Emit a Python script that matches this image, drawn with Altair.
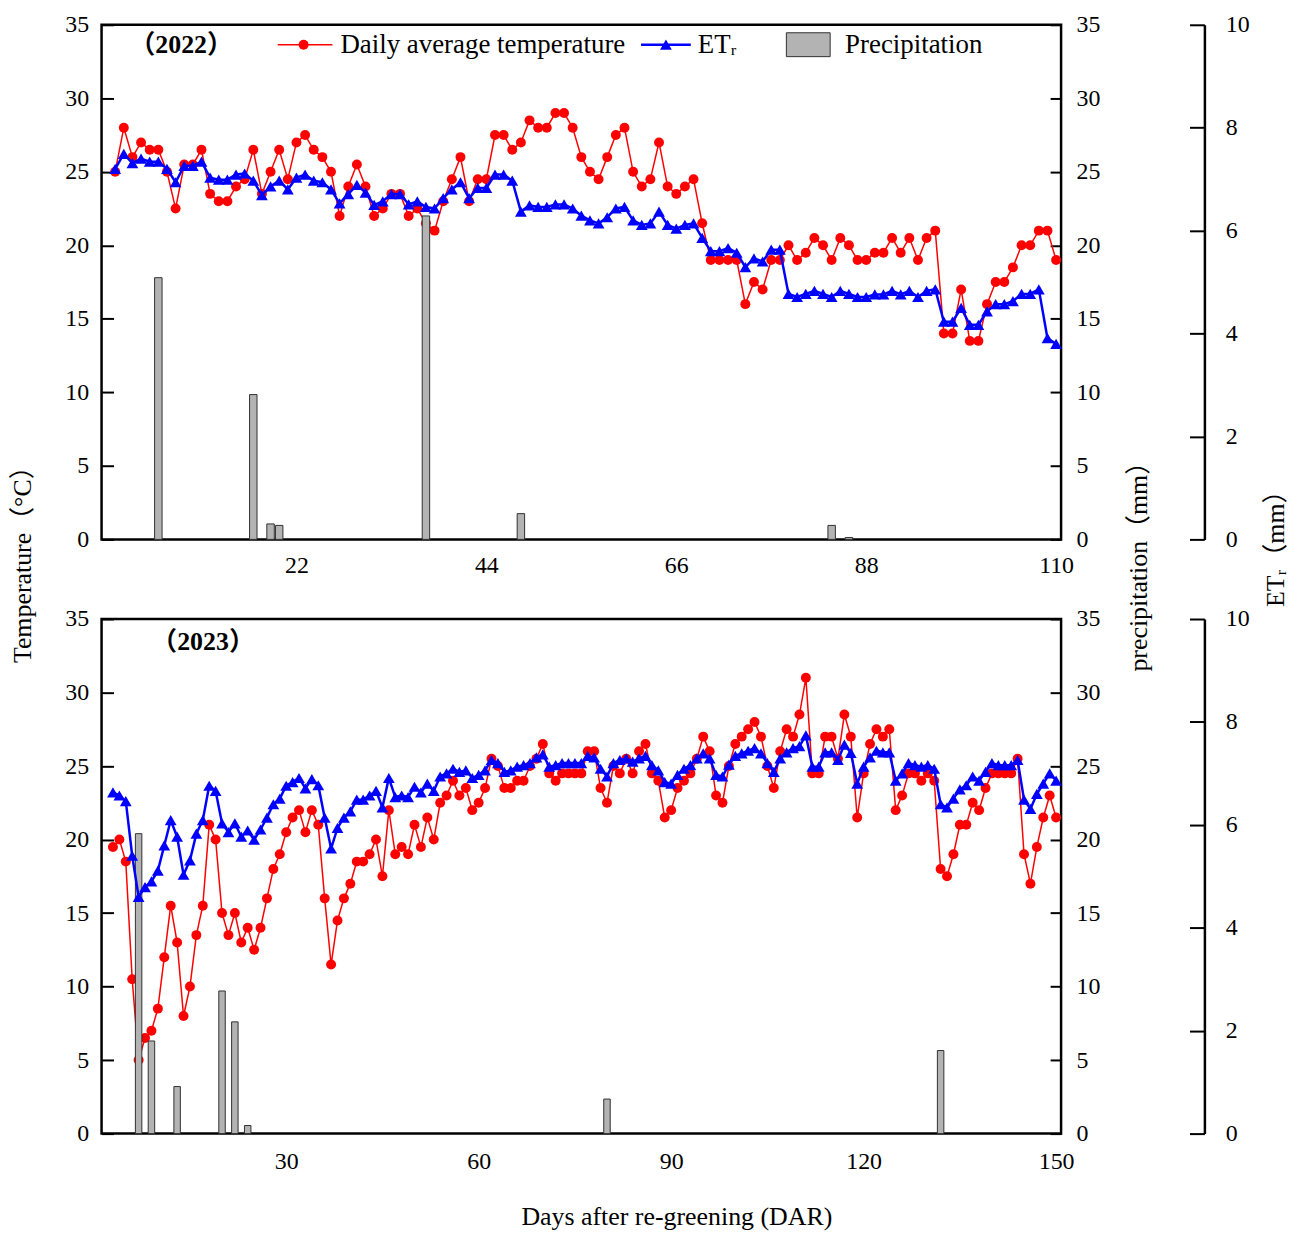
import altair as alt
import pandas as pd

FONT = "Liberation Serif, 'Noto Sans CJK SC'"
PW, PH = 964, 517

# ---------------- 2022 ----------------
days_2022 = list(range(1, 111))
temp_2022 = [25, 28, 26, 27, 26.5, 26.5, 25, 22.5, 25.5, 25.5,
             26.5, 23.5, 23, 23, 24, 24.5, 26.5, 23.5, 25, 26.5,
             24.5, 27, 27.5, 26.5, 26, 25, 22, 24, 25.5, 24,
             22, 22.5, 23.5, 23.5, 22, 22.5, 21.5, 21, 23, 24.5,
             26, 23, 24.5, 24.5, 27.5, 27.5, 26.5, 27, 28.5, 28,
             28, 29, 29, 28, 26, 25, 24.5, 26, 27.5, 28,
             25, 24, 24.5, 27, 24, 23.5, 24, 24.5, 21.5, 19,
             19, 19, 19, 16, 17.5, 17, 19, 19, 20, 19,
             19.5, 20.5, 20, 19, 20.5, 20, 19, 19, 19.5, 19.5,
             20.5, 19.5, 20.5, 19, 20.5, 21, 14, 14, 17, 13.5,
             13.5, 16, 17.5, 17.5, 18.5, 20, 20, 21, 21, 19]
et_2022 = [7.20, 7.49, 7.31, 7.40, 7.34, 7.34, 7.20, 6.94, 7.26, 7.26,
           7.34, 7.03, 6.99, 6.99, 7.09, 7.11, 6.97, 6.69, 6.86, 6.97,
           6.80, 7.03, 7.09, 6.97, 6.94, 6.80, 6.53, 6.71, 6.89, 6.74,
           6.50, 6.57, 6.71, 6.71, 6.51, 6.57, 6.46, 6.43, 6.63, 6.80,
           6.94, 6.63, 6.83, 6.83, 7.09, 7.09, 6.97, 6.37, 6.49, 6.46,
           6.46, 6.51, 6.51, 6.43, 6.29, 6.20, 6.14, 6.26, 6.43, 6.46,
           6.20, 6.11, 6.14, 6.37, 6.11, 6.04, 6.11, 6.14, 5.86, 5.60,
           5.60, 5.66, 5.57, 5.29, 5.46, 5.40, 5.63, 5.63, 4.77, 4.71,
           4.77, 4.83, 4.77, 4.71, 4.83, 4.77, 4.71, 4.71, 4.76, 4.76,
           4.83, 4.76, 4.83, 4.71, 4.83, 4.86, 4.23, 4.23, 4.50, 4.17,
           4.17, 4.43, 4.57, 4.57, 4.63, 4.77, 4.77, 4.86, 3.91, 3.80]
rain_day_2022 = [6, 17, 19, 20, 37, 48, 84, 86]
rain_2022 = [17.8, 9.85, 1.05, 0.95, 22.0, 1.75, 0.95, 0.13]

# ---------------- 2023 ----------------
days_2023 = list(range(3, 151))
temp_2023 = [19.5, 20, 18.5, 10.5, 5, 6.5, 7, 8.5, 12, 15.5,
             13, 8, 10, 13.5, 15.5, 21, 20, 15, 13.5, 15,
             13, 14, 12.5, 14, 16, 18, 19, 20.5, 21.5, 22,
             20.5, 22, 21, 16, 11.5, 14.5, 16, 17, 18.5, 18.5,
             19, 20, 17.5, 22, 19, 19.5, 19, 21, 19.5, 21.5,
             20, 22.5, 23, 24, 23, 23.5, 22, 22.5, 23.5, 25.5,
             25, 23.5, 23.5, 24, 24, 25, 25.5, 26.5, 24.5, 24,
             24.5, 24.5, 24.5, 24.5, 26, 26, 23.5, 22.5, 25, 24.5,
             25.5, 24.5, 26, 26.5, 24.5, 24, 21.5, 22, 23.5, 24,
             24.5, 25.5, 27, 26, 23, 22.5, 25, 26.5, 27, 27.5,
             28, 27, 25, 23.5, 26, 27.5, 27, 28.5, 31, 24.5,
             24.5, 27, 27, 25.5, 28.5, 27, 21.5, 24.5, 26.5, 27.5,
             27, 27.5, 22, 23, 24.5, 24.5, 24, 24.5, 24, 18,
             17.5, 19, 21, 21, 22.5, 22, 23.5, 24.5, 24.5, 24.5,
             24.5, 25.5, 19, 17, 19.5, 21.5, 23, 21.5]
et_2023 = [6.63, 6.57, 6.46, 5.40, 4.60, 4.79, 4.90, 5.11, 5.60, 6.09,
           5.77, 5.03, 5.31, 5.83, 6.09, 6.76, 6.66, 6.03, 5.86, 6.03,
           5.77, 5.89, 5.71, 5.91, 6.14, 6.40, 6.51, 6.76, 6.83, 6.91,
           6.71, 6.89, 6.77, 6.14, 5.54, 5.94, 6.14, 6.26, 6.49, 6.49,
           6.57, 6.66, 6.34, 6.91, 6.54, 6.57, 6.54, 6.74, 6.63, 6.80,
           6.66, 6.94, 7.00, 7.09, 7.03, 7.06, 6.91, 6.97, 7.06, 7.26,
           7.20, 7.03, 7.06, 7.13, 7.16, 7.20, 7.31, 7.37, 7.13, 7.16,
           7.20, 7.20, 7.20, 7.20, 7.34, 7.31, 7.09, 6.94, 7.20, 7.26,
           7.29, 7.23, 7.29, 7.34, 7.16, 7.06, 6.83, 6.80, 6.97, 7.09,
           7.16, 7.29, 7.39, 7.29, 6.97, 6.94, 7.17, 7.34, 7.39, 7.44,
           7.49, 7.39, 7.20, 7.03, 7.29, 7.41, 7.49, 7.53, 7.74, 7.13,
           7.13, 7.41, 7.41, 7.26, 7.56, 7.40, 6.80, 7.13, 7.31, 7.44,
           7.41, 7.41, 6.86, 7.00, 7.20, 7.16, 7.13, 7.16, 7.09, 6.40,
           6.34, 6.51, 6.69, 6.77, 6.94, 6.86, 7.03, 7.20, 7.16, 7.16,
           7.16, 7.26, 6.49, 6.31, 6.60, 6.80, 7.00, 6.86]
rain_day_2023 = [7, 9, 13, 20, 22, 24, 80, 132]
rain_2023 = [20.4, 6.3, 3.2, 9.7, 7.6, 0.55, 2.35, 5.65]

temp_ticks = [0, 5, 10, 15, 20, 25, 30, 35]
et_ticks = [0, 2, 4, 6, 8, 10]
x_ticks_2022 = [22, 44, 66, 88, 110]
x_ticks_2023 = [30, 60, 90, 120, 150]

RED = "#ff0000"
BLUE = "#0000ff"
TICK_FS = 24
one = pd.DataFrame({"k": [0]})


def label(text, x, y, size=26, weight="normal", align="center", angle=0):
    return alt.Chart(one).mark_text(
        text=text, font=FONT, fontSize=size, fontWeight=weight, align=align,
        baseline="middle", angle=angle, color="black"
    ).encode(x=alt.value(x), y=alt.value(y))


def panel(days, temps, ets, rdays, rain, xdomain, xticks, bar_w, lbl_pad, extras):
    df = pd.DataFrame({"day": days, "temp": temps, "et": ets})
    rdf = pd.DataFrame({"day": rdays, "rain": rain})
    xscale = alt.Scale(domain=xdomain, nice=False, zero=False)
    xaxis = alt.Axis(values=xticks, ticks=False, tickSize=0, domain=False, grid=False,
                     labelFont=FONT, labelFontSize=TICK_FS, labelPadding=lbl_pad,
                     labelFlush=True, labelFlushOffset=3, labelColor="black", title=None)
    x = alt.X("day:Q", scale=xscale, axis=xaxis)

    temp_line = alt.Chart(df).mark_line(
        color=RED, strokeWidth=1.5,
        point=alt.OverlayMarkDef(filled=True, size=100, color=RED, shape="circle", opacity=1)
    ).encode(
        x=x,
        y=alt.Y("temp:Q", scale=alt.Scale(domain=[0, 35], nice=False),
                axis=alt.Axis(orient="right", offset=-PW, values=temp_ticks, tickSize=12,
                              tickWidth=2, tickColor="black", domain=False, grid=False,
                              labelAlign="right", labelPadding=-25, labelFont=FONT,
                              labelFontSize=TICK_FS, labelColor="black", title=None)),
    )
    bars = alt.Chart(rdf).mark_bar(
        size=bar_w, fill="#b3b3b3", stroke="#303030", strokeWidth=1
    ).encode(
        x=x,
        y=alt.Y("rain:Q", scale=alt.Scale(domain=[0, 35], nice=False),
                axis=alt.Axis(orient="left", offset=-PW, values=temp_ticks, tickSize=11,
                              tickWidth=2, tickColor="black", domain=False, grid=False,
                              labelAlign="left", labelPadding=-26, labelFont=FONT,
                              labelFontSize=TICK_FS, labelColor="black", title=None)),
    )
    et_line = alt.Chart(df).mark_line(
        color=BLUE, strokeWidth=2.5,
        point=alt.OverlayMarkDef(filled=True, size=140, color=BLUE, shape="triangle-up", opacity=1)
    ).encode(
        x=x,
        y=alt.Y("et:Q", scale=alt.Scale(domain=[0, 10], nice=False),
                axis=alt.Axis(orient="left", offset=-(PW + 144), values=et_ticks, tickSize=15,
                              tickWidth=2, tickColor="black", domain=True, domainWidth=2.5,
                              domainColor="black", grid=False, labelAlign="left",
                              labelPadding=-36, labelFont=FONT, labelFontSize=TICK_FS,
                              labelColor="black", title=None)),
    )
    return alt.layer(temp_line, bars, et_line, *extras).resolve_scale(
        y="independent").properties(width=PW, height=PH)


legend_2022 = [
    label("（2022）", 28, 20, size=26, weight="bold", align="left"),
    alt.Chart(one).mark_rule(color=RED, strokeWidth=1.5).encode(
        x=alt.value(177), x2=alt.value(232), y=alt.value(20)),
    alt.Chart(one).mark_point(filled=True, size=100, color=RED, shape="circle", opacity=1).encode(
        x=alt.value(203), y=alt.value(20)),
    label("Daily average temperature", 240, 20, size=27, align="left"),
    alt.Chart(one).mark_rule(color=BLUE, strokeWidth=2.5).encode(
        x=alt.value(542), x2=alt.value(592), y=alt.value(20)),
    alt.Chart(one).mark_point(filled=True, size=140, color=BLUE, shape="triangle-up", opacity=1).encode(
        x=alt.value(567), y=alt.value(20)),
    label("ETᵣ", 599, 20, size=27, align="left"),
    alt.Chart(one).mark_rect(fill="#b3b3b3", stroke="#303030", strokeWidth=1).encode(
        x=alt.value(688), x2=alt.value(732), y=alt.value(8), y2=alt.value(32)),
    label("Precipitation", 747, 20, size=27, align="left"),
    label("Temperature（°C）", -79, 536, angle=270),
    label("precipitation（mm）", 1042, 538, angle=270),
    label("ETᵣ（mm）", 1180, 520, angle=270),
]

extras_2023 = [
    label("（2023）", 50, 23, size=26, weight="bold", align="left"),
    label("Days after re-greening (DAR)", 578, 601),
]

p1 = panel(days_2022, temp_2022, et_2022, rain_day_2022, rain_2022, [0, 110],
           x_ticks_2022, 7.5, 14, legend_2022)
p2 = panel(days_2023, temp_2023, et_2023, rain_day_2023, rain_2023, [2, 150],
           x_ticks_2023, 6.5, 16, extras_2023)

chart = alt.vconcat(p1, p2, spacing=80, bounds="flush").properties(
    padding={"left": 0, "top": 0, "right": 0, "bottom": 0}
).configure_view(stroke="black", strokeWidth=2.5)

chart.save("out.html", embed_options={"renderer": "svg", "actions": False})
